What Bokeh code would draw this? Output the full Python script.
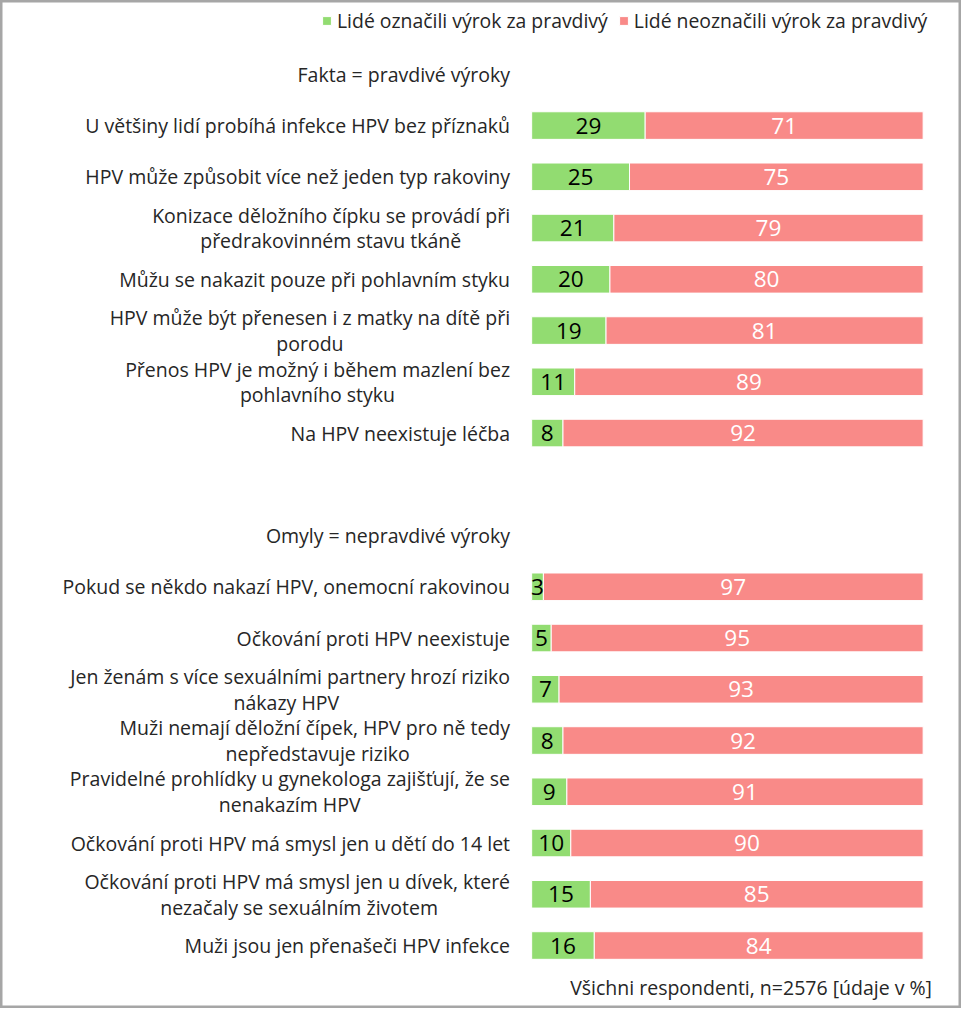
import unicodedata
from bokeh.plotting import figure
from bokeh.models import ColumnDataSource, Range1d, Label, Legend, LegendItem
from bokeh.embed import file_html
from bokeh.resources import INLINE
from bokeh.core.properties import value

# ---------------- data ----------------
fakta_header = "Fakta = pravdivé výroky"
omyly_header = "Omyly = nepravdivé výroky"

fakta_labels = [
    "U většiny lidí probíhá infekce HPV bez příznaků",
    "HPV může způsobit více než jeden typ rakoviny",
    "Konizace děložního čípku se provádí při\npředrakovinném stavu tkáně",
    "Můžu se nakazit pouze při pohlavním styku",
    "HPV může být přenesen i z matky na dítě při\nporodu",
    "Přenos HPV je možný i během mazlení bez\npohlavního styku",
    "Na HPV neexistuje léčba",
]
fakta_yes = [29, 25, 21, 20, 19, 11, 8]
fakta_no = [71, 75, 79, 80, 81, 89, 92]

omyly_labels = [
    "Pokud se někdo nakazí HPV, onemocní rakovinou",
    "Očkování proti HPV neexistuje",
    "Jen ženám s více sexuálními partnery hrozí riziko\nnákazy HPV",
    "Muži nemají děložní čípek, HPV pro ně tedy\nnepředstavuje riziko",
    "Pravidelné prohlídky u gynekologa zajišťují, že se\nnenakazím HPV",
    "Očkování proti HPV má smysl jen u dětí do 14 let",
    "Očkování proti HPV má smysl jen u dívek, které\nnezačaly se sexuálním životem",
    "Muži jsou jen přenašeči HPV infekce",
]
omyly_yes = [3, 5, 7, 8, 9, 10, 15, 16]
omyly_no = [97, 95, 93, 92, 91, 90, 85, 84]

legend_labels = ["Lidé označili výrok za pravdivý", "Lidé neoznačili výrok za pravdivý"]
footer_text = "Všichni respondenti, n=2576 [údaje v %]"

# ---------------- style / layout ----------------
W, H = 961, 1008
SX, SY = W / 977, H / 1024
PX_PER_PCT = 3.98 * SX
X0_PX = 540 * SX
ROW_PX = 52.06 * SY
ROW0_PX = 75 * SY
GREEN = "#92DC71"
RED = "#F98A88"
TXT = "#262626"
FONT = "Open Sans"
LAB_SIZE = 19.5
LEG_SIZE = 19.4
VAL_SIZE = 22.6

# row positions: header, items, blank, header, items
fakta_rows = list(range(1, 1 + len(fakta_labels)))
omyly_header_row = fakta_rows[-1] + 2
omyly_rows = list(range(omyly_header_row + 1, omyly_header_row + 1 + len(omyly_labels)))

rows = fakta_rows + omyly_rows
labels = fakta_labels + omyly_labels
yes = fakta_yes + omyly_yes
no = fakta_no + omyly_no

src = ColumnDataSource(dict(
    y=rows, yes=yes, no=no,
    yes_mid=[v / 2 for v in yes],
    no_mid=[a + b / 2 for a, b in zip(yes, no)],
    yes_txt=[str(v) for v in yes],
    no_txt=[str(v) for v in no],
))

p = figure(width=W, height=H, output_backend="svg", toolbar_location=None,
           x_range=Range1d(-X0_PX / PX_PER_PCT, (W - X0_PX) / PX_PER_PCT),
           y_range=Range1d((H - ROW0_PX) / ROW_PX, -ROW0_PX / ROW_PX),
           x_axis_location=None, y_axis_location=None, min_border=0)
p.grid.visible = False
p.outline_line_color = "#a6a6a6"
p.outline_line_width = 4
p.background_fill_color = "white"
p.border_fill_color = "white"

rs = p.hbar_stack(["yes", "no"], y="y", height=27.6 / ROW_PX, color=[GREEN, RED],
                  line_color="white", line_width=1, source=src)

p.text(x="yes_mid", y="y", text="yes_txt", source=src, text_color="black",
       text_align="center", text_baseline="middle", text_font=value(FONT),
       text_font_size=f"{VAL_SIZE}px")
p.text(x="no_mid", y="y", text="no_txt", source=src, text_color="white",
       text_align="center", text_baseline="middle", text_font=value(FONT),
       text_font_size=f"{VAL_SIZE}px")

# approximate Open Sans advance widths (em) for centring wrapped lines
_W = {' ': 0.26, 'a': 0.556, 'b': 0.613, 'c': 0.476, 'd': 0.613, 'e': 0.561, 'f': 0.339,
      'g': 0.548, 'h': 0.614, 'i': 0.253, 'j': 0.253, 'k': 0.525, 'l': 0.253, 'm': 0.93,
      'n': 0.614, 'o': 0.604, 'p': 0.613, 'q': 0.613, 'r': 0.408, 's': 0.477, 't': 0.353,
      'u': 0.614, 'v': 0.5, 'w': 0.778, 'x': 0.524, 'y': 0.502, 'z': 0.477, ',': 0.245,
      '.': 0.266, 'H': 0.74, 'P': 0.598, 'V': 0.569, '1': 0.572, '4': 0.572}


def text_w(s, size):
    return sum(_W.get(unicodedata.normalize("NFD", ch)[0], 0.62) for ch in s) * size


LAB_X = -21.6 / PX_PER_PCT
LINE_OFF = 12.8 / ROW_PX
r_x, r_y, r_t = [], [], []
c_x, c_y, c_t = [], [], []
for row, lab in zip(rows, labels):
    parts = lab.split("\n")
    if len(parts) == 1:
        r_x.append(LAB_X); r_y.append(row); r_t.append(lab)
    else:
        r_x.append(LAB_X); r_y.append(row - LINE_OFF); r_t.append(parts[0])
        w1 = text_w(parts[0], LAB_SIZE) / PX_PER_PCT
        c_x.append(LAB_X - w1 / 2); c_y.append(row + LINE_OFF); c_t.append(parts[1])
# headers
r_x += [LAB_X, LAB_X]
r_y += [0, omyly_header_row]
r_t += [fakta_header, omyly_header]

p.text(x=r_x, y=r_y, text=r_t, text_color=TXT, text_align="right",
       text_baseline="middle", text_font=value(FONT), text_font_size=f"{LAB_SIZE}px")
p.text(x=c_x, y=c_y, text=c_t, text_color=TXT, text_align="center",
       text_baseline="middle", text_font=value(FONT), text_font_size=f"{LAB_SIZE}px")

legend = Legend(items=[LegendItem(label=legend_labels[0], renderers=[rs[0]]),
                       LegendItem(label=legend_labels[1], renderers=[rs[1]])],
                orientation="horizontal", location=(round(326 * SX), 974),
                background_fill_alpha=0, border_line_alpha=0, padding=0, margin=0,
                spacing=10, label_standoff=5, glyph_width=11, glyph_height=11,
                label_text_font=FONT, label_text_font_size=f"{LEG_SIZE}px",
                label_text_color=TXT, label_height=20)
p.add_layout(legend)

p.add_layout(Label(x=947 * SX, y=H - 1003 * SY, x_units="screen", y_units="screen",
                   text=footer_text, text_align="right", text_baseline="middle",
                   text_font=FONT, text_font_size=f"{LAB_SIZE}px", text_color=TXT))

open("out.html", "w").write(file_html(p, INLINE))
